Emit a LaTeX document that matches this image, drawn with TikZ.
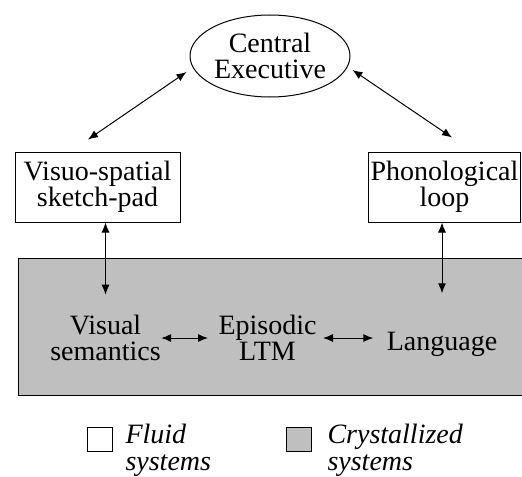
\documentclass[tikz,border=0pt]{standalone}
\usepackage{fontspec}
\setmainfont{Liberation Serif}
\usepackage{xcolor}
\usetikzlibrary{positioning, arrows.meta, calc, shapes.geometric}

\begin{document}
\begin{tikzpicture}[
  x=0.5pt, y=-0.5pt,
  font=\fontsize{14}{13}\selectfont,
  >={Latex[length=5pt,width=4pt]},
  line width=0.5pt,
  execell/.style={
    draw, ellipse, inner sep=0pt,
    minimum width=80pt, minimum height=41pt, align=center
  },
  fluidbox/.style={
    draw, inner xsep=1pt, inner ysep=0pt,
    minimum height=35pt, align=center
  },
  ltmitem/.style={inner sep=0pt, align=center},
  keybox/.style={draw, minimum width=12.5pt, minimum height=12pt, inner sep=0pt},
  keytext/.style={inner sep=0pt, anchor=north west, align=left, font=\fontsize{14}{13.5}\selectfont\itshape}
]
\useasboundingbox (0,0) rectangle (522,476);

% Crystallized band behind the lower row
\draw[fill=black!25] (18,258) rectangle (524,395);

% Top: executive and the two slave systems
\node[execell] (ce) at (270,56) {Central\\Executive};
\node[fluidbox, minimum width=82.5pt] (vs) at (97.5,187) {Visuo-spatial\\sketch-pad};
\node[fluidbox, minimum width=75.5pt] (pl) at (444.5,187) {Phonological\\loop};

% Lower row: long-term systems
\node[ltmitem] (vsem) at (105.5,338) {Visual\\semantics};
\node[ltmitem] (epi) at (267.5,338) {Episodic\\LTM};
\node[ltmitem] (lang) at (442,344) {Language};

% Executive <-> slave systems
\draw[<->] ($(vs.north)+(-9.5,-12)$) -- ($(ce.west)+(-3,16)$);
\draw[<->] ($(ce.east)+(2,14)$) -- ($(pl.north)+(7.5,-14)$);

% Slave systems <-> long-term systems
\draw[<->, shorten >=10pt] (vs.south -| vsem) -- (vsem.north);
\draw[<->, shorten >=19pt] (pl.south -| lang) -- (lang.north);

% Links along the lower row
\draw[<->, shorten >=5pt] (vsem.east) -- (epi.west |- vsem.east);
\draw[<->, shorten <=3pt, shorten >=6.5pt] (epi.east) -- (epi.east -| lang.west);

% Key
\node[keybox] (fluidkey) at (99.5,439) {};
\node[keytext] (fluidtxt) at (125,424) {Fluid\\systems};
\node[keybox, fill=black!25] (crystkey) at (298.5,439) {};
\node[keytext] (crysttxt) at (327,424) {Crystallized\\systems};

\end{tikzpicture}
\end{document}
